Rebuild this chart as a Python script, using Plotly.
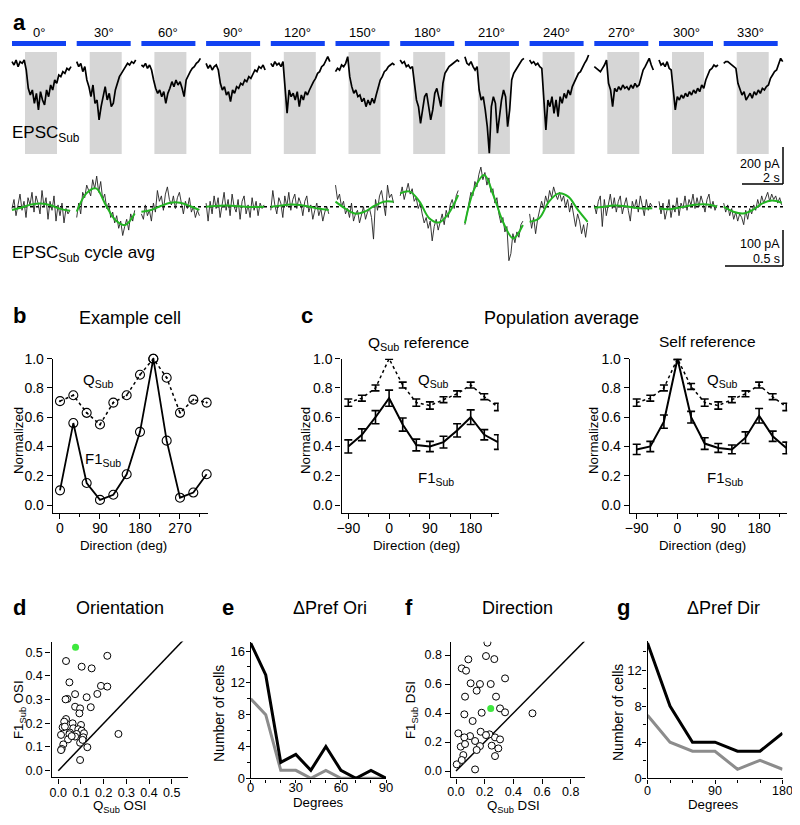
import plotly.graph_objects as go
import numpy as np

# page is drawn inside an 8 px body margin; figure sized so page == 800 x 825
W, H = 800, 825
OFF = 8
FW, FH = W - 2 * OFF, H - 2 * OFF
FONT = "Liberation Sans, Arial, Helvetica, sans-serif"

# ---------------- data ----------------
angles = [0, 30, 60, 90, 120, 150, 180, 210, 240, 270, 300, 330]

# panel a: EPSC_Sub traces (pA, 30 samples over one stimulus epoch)
epsc_000 = [18,0,27,-9,18,9,27,-27,-126,-162,-135,-207,-153,-243,-144,-189,-216,-135,-171,-108,-135,-81,-99,-54,-63,-36,-45,-18,-27,-9]
epsc_030 = [18,-9,9,-36,-9,-81,-117,-171,-108,-207,-189,-297,-225,-171,-117,-189,-153,-225,-207,-135,-99,-63,-45,-27,-9,9,0,18,9,27]
epsc_060 = [0,-9,9,-18,0,-27,-81,-126,-153,-135,-171,-144,-207,-153,-126,-90,-117,-81,-108,-90,-126,-171,-81,-54,-36,-18,-9,9,18,36]
epsc_090 = [9,-18,0,-27,-9,0,-27,-99,-135,-117,-162,-144,-198,-135,-153,-117,-126,-99,-108,-81,-90,-63,-72,-45,-27,-36,-9,-18,0,-27]
epsc_120 = [9,-9,18,0,9,-9,18,-117,-261,-135,-171,-153,-189,-144,-225,-162,-189,-144,-162,-135,-108,-90,-72,-45,-36,-9,0,27,45,18]
epsc_150 = [-36,-18,-27,0,-9,9,45,-63,-117,-153,-135,-171,-162,-198,-180,-225,-189,-216,-180,-207,-162,-117,-81,-63,-36,-27,-9,0,9,0]
epsc_180 = [27,9,18,-9,0,-18,-9,-117,-189,-225,-315,-243,-171,-153,-225,-297,-243,-153,-126,-171,-225,-99,-45,-27,-9,0,9,18,27,18]
epsc_210 = [45,9,0,18,-9,-27,-9,-135,-189,-171,-243,-333,-477,-225,-171,-207,-369,-279,-189,-135,-171,-333,-243,-81,-45,-27,-9,9,27,36]
epsc_240 = [27,9,18,0,9,-9,-18,-189,-351,-189,-225,-171,-261,-189,-279,-171,-207,-153,-180,-135,-162,-117,-90,-63,-45,-36,-9,9,27,54]
epsc_270 = [-9,-18,-27,-36,-18,0,27,-99,-135,-225,-126,-144,-117,-135,-108,-126,-117,-135,-108,-126,-99,-117,-108,-63,-27,-9,18,36,0,-27]
epsc_300 = [27,0,9,-9,18,-18,-27,-153,-243,-171,-189,-162,-180,-153,-171,-144,-162,-135,-153,-126,-144,-108,-126,-81,-54,-27,-18,0,-9,0]
epsc_330 = [9,18,18,9,0,-9,-18,-99,-135,-162,-144,-189,-171,-153,-180,-144,-162,-135,-153,-126,-135,-117,-108,-72,-54,-36,-27,9,36,18]

# panel a: cycle averages (pA, 30 samples over one 0.5 s cycle) and their F1 fits (7 samples)
cyc_000 = [-5,20,-25,10,35,-10,15,-30,25,5,40,-15,30,10,-20,45,0,25,-35,15,-10,30,-40,5,-25,10,-45,-5,-20,-10]
cyc_030 = [-30,10,-20,40,25,60,45,30,75,50,85,40,70,20,35,-5,10,-30,-15,-45,-25,-60,-40,-80,-55,-35,-65,-20,-40,-10]
cyc_060 = [-20,-35,5,-25,-10,-40,10,-15,45,15,30,-10,35,55,20,5,30,-5,25,40,10,-20,15,-5,25,-15,0,-30,-10,-25]
cyc_090 = [10,-40,15,-20,30,-5,25,-30,5,40,-10,20,-25,35,0,-15,20,-35,15,30,-20,5,-30,25,-10,15,-25,10,-5,5]
cyc_120 = [-10,45,5,-20,25,10,-30,30,0,40,-10,20,35,-5,25,10,-25,15,30,-15,5,-35,-10,10,-25,-5,-40,-15,0,-20]
cyc_150 = [60,20,35,0,15,-20,-5,-30,10,-40,-20,-10,-45,-25,0,-35,-15,-5,-30,-90,20,-10,30,45,15,-25,60,25,35,10]
cyc_180 = [30,55,20,45,65,35,50,15,25,-5,10,-20,-45,-30,-60,-40,-95,-55,-35,-65,-45,-20,-50,-10,-30,5,20,-5,30,45]
cyc_210 = [-50,-20,10,40,30,70,55,90,110,75,95,60,80,40,50,10,25,-20,-45,-30,-70,-55,-150,-130,-75,-100,-70,-85,-50,-40]
cyc_240 = [-20,-60,-30,-75,-35,-10,15,-5,30,10,45,25,55,35,20,40,15,30,0,20,-15,10,-30,-55,-20,-40,-75,-50,-85,-45]
cyc_270 = [5,-20,15,30,-55,20,-25,10,35,-5,25,-15,15,30,-20,5,25,-10,-40,15,-5,20,-15,30,0,-25,20,-10,10,0]
cyc_300 = [15,-20,10,-35,-10,20,-30,5,-15,25,-25,10,-5,30,-10,20,5,35,-5,25,0,30,10,-15,20,35,-5,15,-10,5]
cyc_330 = [10,-15,5,-25,-5,-35,-15,-40,-20,-30,-50,-10,-35,-5,-20,5,-10,20,0,30,10,25,40,15,35,20,30,10,25,5]

fit_000 = [-9,-2,6,9,4,-6,-11]
fit_030 = [-14,37,51,5,-37,-51,-19]
fit_060 = [-14,-9,2,11,11,2,-9]
fit_090 = [0,2,3,2,0,-1,0]
fit_120 = [0,3,6,5,0,-6,-9]
fit_150 = [14,-5,-19,-14,2,14,14]
fit_180 = [37,42,14,-32,-44,-19,32]
fit_210 = [-46,51,88,28,-46,-88,-51]
fit_240 = [-42,-32,14,37,28,-9,-42]
fit_270 = [-3,0,3,2,-2,-5,-4]
fit_300 = [-5,-7,-3,2,6,6,0]
fit_330 = [0,-14,-19,-9,9,17,11]

# panel b: example cell
b_q = [0.71,0.75,0.63,0.55,0.70,0.75,0.89,1.00,0.87,0.63,0.72,0.70]
b_f1 = [0.10,0.56,0.15,0.035,0.07,0.21,0.50,1.00,0.44,0.05,0.085,0.21]

# panel c: population averages
c_dir = [-90,-60,-30,0,30,60,90,120,150,180,210,240]
cq_q = [0.70,0.73,0.80,1.00,0.82,0.70,0.68,0.72,0.76,0.82,0.74,0.67]
cq_q_err = [0.025,0.02,0.02,0.004,0.02,0.025,0.025,0.02,0.02,0.02,0.02,0.025]
cq_f1 = [0.40,0.48,0.60,0.73,0.55,0.41,0.40,0.43,0.51,0.60,0.48,0.43]
cq_f1_err = [0.045,0.04,0.045,0.055,0.045,0.04,0.035,0.04,0.045,0.05,0.035,0.05]
cs_q = [0.70,0.73,0.80,1.00,0.81,0.70,0.68,0.72,0.76,0.82,0.74,0.67]
cs_q_err = [0.025,0.02,0.02,0.005,0.02,0.025,0.025,0.02,0.02,0.02,0.02,0.025]
cs_f1 = [0.38,0.40,0.57,1.00,0.60,0.42,0.39,0.38,0.46,0.61,0.47,0.39]
cs_f1_err = [0.035,0.035,0.045,0.005,0.04,0.04,0.03,0.03,0.04,0.05,0.035,0.04]

# panel d: orientation selectivity
d_q_osi = [0.034,0.103,0.147,0.216,0.049,0.188,0.216,0.074,0.040,0.032,0.172,0.125,0.074,0.096,0.143,0.093,
           0.034,0.026,0.063,0.100,0.019,0.029,0.066,0.088,0.103,0.051,0.081,0.049,0.113,0.012,0.265,0.074,
           0.110,0.043,0.096,0.107,0.022,0.015,0.012,0.128,0.096,0.059]
d_f1_osi = [0.463,0.439,0.432,0.485,0.373,0.358,0.355,0.323,0.303,0.301,0.324,0.310,0.270,0.263,0.268,0.242,
            0.218,0.207,0.200,0.193,0.183,0.186,0.179,0.175,0.169,0.161,0.155,0.154,0.158,0.151,0.155,0.144,
            0.141,0.132,0.118,0.130,0.111,0.092,0.087,0.099,0.045,0.146]
d_ex_q, d_ex_f1 = [0.076], [0.521]

# panel e: delta preferred orientation histogram
e_deg = [0,10,20,30,40,50,60,70,80,90]
e_black = [17,13,2,3,1,4,1,0,1,0]
e_gray = [10,8,1,1,0,1,0,0,0,0]

# panel f: direction selectivity
f_q_dsi = [0.219,0.209,0.267,0.086,0.040,0.070,0.342,0.102,0.167,0.242,0.144,0.063,0.279,0.307,0.342,0.179,
           0.058,0.533,0.116,0.016,0.172,0.098,0.058,0.233,0.272,0.307,0.133,0.033,0.063,0.167,0.249,0.144,
           0.295,0.051,0.272,0.005,0.040,0.133,0.209]
f_f1_dsi = [0.885,0.793,0.772,0.770,0.708,0.692,0.639,0.605,0.600,0.600,0.554,0.513,0.513,0.432,0.405,0.402,
            0.391,0.398,0.345,0.260,0.271,0.241,0.232,0.253,0.232,0.218,0.207,0.168,0.186,0.172,0.175,0.145,
            0.156,0.110,0.103,0.046,0.076,0.011,0.248]
f_ex_q, f_ex_f1 = [0.242], [0.432]

# panel g: delta preferred direction histogram
g_deg = [0,30,60,90,120,150,180]
g_black = [15,8,4,4,3,3,5]
g_gray = [7,4,3,3,1,2,1]

# ---------------- helpers (reference-pixel -> paper) ----------------
def px(x):
    return (x - OFF) / FW

def py(y):
    return 1 - (y - OFF) / FH

def dom_x(x0, x1):
    return [px(x0), px(x1)]

def dom_y(ytop, ybot):
    return [py(ybot), py(ytop)]

fig = go.Figure()
layout = dict(width=FW, height=FH, margin=dict(l=0, r=0, t=0, b=0, pad=0), autosize=False,
              paper_bgcolor="white", plot_bgcolor="white", showlegend=False,
              font=dict(family=FONT, color="black"))
annotations = []
shapes = []

def ann(text, x, y, size=13, xanchor="center", yanchor="middle", angle=0, bold=False, xref="paper", yref="paper"):
    if bold:
        text = "<b>" + text + "</b>"
    annotations.append(dict(text=text, x=x, y=y, xref=xref, yref=yref, showarrow=False,
                            xanchor=xanchor, yanchor=yanchor, textangle=angle, borderpad=0,
                            font=dict(size=size, family=FONT, color="black")))

def hidden(domain, rng, anchor):
    return dict(domain=domain, range=rng, visible=False, fixedrange=True, anchor=anchor)

def vis(domain, rng, anchor, tickvals, fs=13, fmt=None, minor=None, standoff=0, ticklen=5):
    d = dict(domain=domain, range=rng, anchor=anchor, showline=True, linecolor="black", linewidth=1.4,
             ticks="outside", ticklen=ticklen, tickwidth=1.4, tickcolor="black", tickmode="array",
             tickvals=tickvals, showgrid=False, zeroline=False, fixedrange=True, automargin=False,
             ticklabelstandoff=standoff, ticklabeloverflow="allow",
             tickfont=dict(size=fs, family=FONT, color="black"))
    if fmt:
        d["tickformat"] = fmt
    if minor is not None:
        d["minor"] = dict(tickmode="array", tickvals=minor, ticks="outside", ticklen=3,
                          tickwidth=1.4, tickcolor="black", showgrid=False)
    return d

# ---------------- panel a: raw traces ----------------
S_PX = 20.5          # px per second (scale bar 2 s = 41 px)
PA_PX = 37 / 200.0   # px per pA
seg_pitch = 64.7 / S_PX
trace_len = 59 / S_PX
stim_on, stim_off = 13 / S_PX, 45 / S_PX
bar_len = 54 / S_PX
base_px = 65

def xa(p):
    return (p - 12) / S_PX

def ya(p):
    return (base_px - p) / PA_PX

layout["xaxis"] = hidden(dom_x(8, 792), [xa(8), xa(792)], "y")
layout["yaxis"] = hidden(dom_y(28, 196), [ya(196), ya(28)], "x")

epsc_list = [epsc_000, epsc_030, epsc_060, epsc_090, epsc_120, epsc_150,
             epsc_180, epsc_210, epsc_240, epsc_270, epsc_300, epsc_330]
for i, (ang, vals) in enumerate(zip(angles, epsc_list)):
    t0 = i * seg_pitch
    t = t0 + np.linspace(0, trace_len, len(vals))
    shapes.append(dict(type="rect", xref="x", yref="paper", x0=t0 + stim_on, x1=t0 + stim_off,
                       y0=py(154), y1=py(52), fillcolor="#d6d6d6", line=dict(width=0), layer="below"))
    shapes.append(dict(type="rect", xref="x", yref="paper", x0=t0, x1=t0 + bar_len,
                       y0=py(46), y1=py(41), fillcolor="#1242f2", line=dict(width=0), layer="below"))
    fig.add_trace(go.Scatter(x=t, y=vals, mode="lines", line=dict(color="black", width=1.7),
                             xaxis="x", yaxis="y", hoverinfo="skip"))
    ann(f"{ang}°", t0 + bar_len / 2, py(33), size=13, xref="x")

# scale bar 200 pA / 2 s
sb_t, sb_y = xa(783), ya(184)
shapes.append(dict(type="line", xref="x", yref="y", x0=sb_t, x1=sb_t, y0=sb_y, y1=sb_y + 200,
                   line=dict(color="black", width=1.5)))
shapes.append(dict(type="line", xref="x", yref="y", x0=sb_t - 2, x1=sb_t, y0=sb_y, y1=sb_y,
                   line=dict(color="black", width=1.5)))
ann("200 pA", px(781), py(163.5), size=12.5, xanchor="right")
ann("2 s", px(781), py(178.5), size=12.5, xanchor="right")
ann("EPSC<sub>Sub</sub>", px(11), py(134), size=17, xanchor="left")
ann("a", px(12), py(8.5), size=22, xanchor="left", yanchor="top", bold=True)

# ---------------- panel a: cycle averages ----------------
C_PX = 116.0          # px per second (0.5 s = 58 px)
CPA_PX = 36 / 100.0   # px per pA
cyc_base = 206.7
cyc_pitch = 64.7 / C_PX
cyc_len = 0.5

def xc(p):
    return (p - 12) / C_PX

def yc(p):
    return (cyc_base - p) / CPA_PX

layout["xaxis2"] = hidden(dom_x(8, 792), [xc(8), xc(792)], "y2")
layout["yaxis2"] = hidden(dom_y(165, 275), [yc(275), yc(165)], "x2")

cyc_list = [cyc_000, cyc_030, cyc_060, cyc_090, cyc_120, cyc_150,
            cyc_180, cyc_210, cyc_240, cyc_270, cyc_300, cyc_330]
fit_list = [fit_000, fit_030, fit_060, fit_090, fit_120, fit_150,
            fit_180, fit_210, fit_240, fit_270, fit_300, fit_330]
fig.add_trace(go.Scatter(x=[0, xc(783)], y=[0, 0], mode="lines",
                         line=dict(color="black", width=1.4, dash="dot"),
                         xaxis="x2", yaxis="y2", hoverinfo="skip"))
for i, (vals, fit) in enumerate(zip(cyc_list, fit_list)):
    t0 = i * cyc_pitch
    t = t0 + np.linspace(0, cyc_len, len(vals))
    fig.add_trace(go.Scatter(x=t, y=vals, mode="lines", line=dict(color="#222222", width=0.9),
                             xaxis="x2", yaxis="y2", hoverinfo="skip"))
    tf = t0 + np.linspace(0, cyc_len, len(fit))
    fig.add_trace(go.Scatter(x=tf, y=fit, mode="lines", line=dict(color="#22b422", width=2, shape="spline"),
                             xaxis="x2", yaxis="y2", hoverinfo="skip"))

cb_t, cb_y = xc(783), yc(266)
shapes.append(dict(type="line", xref="x2", yref="y2", x0=cb_t, x1=cb_t, y0=cb_y, y1=cb_y + 100,
                   line=dict(color="black", width=1.5)))
shapes.append(dict(type="line", xref="x2", yref="y2", x0=cb_t - 0.5, x1=cb_t, y0=cb_y, y1=cb_y,
                   line=dict(color="black", width=1.5)))
ann("100 pA", px(781), py(244.5), size=12.5, xanchor="right")
ann("0.5 s", px(781), py(259.5), size=12.5, xanchor="right")
ann("EPSC<sub>Sub</sub> cycle avg", px(11), py(254), size=17, xanchor="left")

# ---------------- panel b ----------------
b_ppd = 40 / 90.0
layout["xaxis3"] = vis(dom_x(60 - 16 * b_ppd, 60 + 334 * b_ppd), [-16, 334], "y3", [0, 90, 180, 270], fs=14,
                       minor=[45, 135, 225, 315], standoff=-3)
layout["yaxis3"] = vis(dom_y(358.7, 513), [-0.0547, 1.0], "x3", [0, 0.2, 0.4, 0.6, 0.8, 1.0], fs=14, fmt=".1f")
fig.add_trace(go.Scatter(x=angles, y=b_q, mode="lines+markers", xaxis="x3", yaxis="y3", cliponaxis=False,
                         line=dict(color="black", width=1.5, dash="dot"),
                         marker=dict(symbol="circle-open-dot", size=9, color="black", line=dict(width=1.1))))
fig.add_trace(go.Scatter(x=angles, y=b_f1, mode="lines+markers", xaxis="x3", yaxis="y3", cliponaxis=False,
                         line=dict(color="black", width=1.8),
                         marker=dict(symbol="circle-open", size=9, color="black", line=dict(width=1.1))))
ann("b", px(12), py(316), size=22, xanchor="left", bold=True)
ann("Example cell", px(130), py(318), size=18)
ann("Normalized", px(18), py(441), size=13.3, angle=-90)
ann("Direction (deg)", px(123), py(545), size=13.3)
ann("Q<sub>Sub</sub>", px(82), py(381), size=15, xanchor="left")
ann("F1<sub>Sub</sub>", px(84), py(460), size=15, xanchor="left")

# ---------------- panel c ----------------
c_ppd = (470.7 - 348.3) / 270.0
for (xn, yn, x_at_m90, q, qe, f1, f1e) in [
        ("xaxis4", "yaxis4", 348.3, cq_q, cq_q_err, cq_f1, cq_f1_err),
        ("xaxis5", "yaxis5", 636.7, cs_q, cs_q_err, cs_f1, cs_f1_err)]:
    xs, ys = xn.replace("axis", ""), yn.replace("axis", "")
    left = x_at_m90 - 15 * c_ppd
    layout[xn] = vis(dom_x(left, left + 347 * c_ppd), [-105, 242], ys, [-90, 0, 90, 180], fs=14,
                     minor=[-45, 45, 135, 225], standoff=-3)
    layout[yn] = vis(dom_y(358.7, 513), [-0.0547, 1.0], xs, [0, 0.2, 0.4, 0.6, 0.8, 1.0], fs=14, fmt=".1f")
    fig.add_trace(go.Scatter(x=c_dir, y=q, mode="lines", xaxis=xs, yaxis=ys, cliponaxis=False,
                             line=dict(color="black", width=1.5, dash="dot"),
                             error_y=dict(type="data", array=qe, color="black", thickness=1.6, width=4)))
    fig.add_trace(go.Scatter(x=c_dir, y=f1, mode="lines", xaxis=xs, yaxis=ys, cliponaxis=False,
                             line=dict(color="black", width=2),
                             error_y=dict(type="data", array=f1e, color="black", thickness=1.6, width=4)))

ann("c", px(300), py(316), size=22, xanchor="left", bold=True)
ann("Population average", px(561), py(318), size=18)
ann("Q<sub>Sub</sub> reference", px(418), py(343), size=15.5)
ann("Self reference", px(707), py(341), size=15.5)
ann("Normalized", px(305), py(441), size=13.3, angle=-90)
ann("Normalized", px(593), py(441), size=13.3, angle=-90)
ann("Direction (deg)", px(417), py(545), size=13.3)
ann("Direction (deg)", px(702), py(545), size=13.3)
ann("Q<sub>Sub</sub>", px(417), py(381), size=15, xanchor="left")
ann("F1<sub>Sub</sub>", px(417), py(478), size=15, xanchor="left")
ann("Q<sub>Sub</sub>", px(706), py(381), size=15, xanchor="left")
ann("F1<sub>Sub</sub>", px(706), py(478), size=15, xanchor="left")

# ---------------- panel d ----------------
layout["xaxis6"] = vis(dom_x(51.5, 188.3), [-0.03, 0.573], "y6", [0, 0.1, 0.2, 0.3, 0.4, 0.5], fs=12.5,
                       fmt=".1f", standoff=-2)
layout["yaxis6"] = vis(dom_y(641.6, 777.3), [-0.028, 0.545], "x6", [0, 0.1, 0.2, 0.3, 0.4, 0.5], fs=12.5, fmt=".1f")
fig.add_trace(go.Scatter(x=[0, 0.6], y=[0, 0.6], mode="lines", xaxis="x6", yaxis="y6",
                         line=dict(color="black", width=1.5)))
fig.add_trace(go.Scatter(x=d_q_osi, y=d_f1_osi, mode="markers", xaxis="x6", yaxis="y6",
                         marker=dict(symbol="circle", size=7, color="white", line=dict(color="black", width=1))))
fig.add_trace(go.Scatter(x=d_ex_q, y=d_ex_f1, mode="markers", xaxis="x6", yaxis="y6",
                         marker=dict(symbol="circle", size=7, color="#3ee83e", line=dict(width=0))))
ann("d", px(12), py(607), size=22, xanchor="left", bold=True)
ann("Orientation", px(120), py(608), size=18)
ann("F1<sub>Sub</sub> OSI", px(19), py(710), size=13.3, angle=-90)
ann("Q<sub>Sub</sub> OSI", px(120), py(806), size=13.3)

# ---------------- panel e ----------------
layout["xaxis7"] = vis(dom_x(250.7, 386), [0, 90], "y7", [0, 30, 60, 90], fs=13,
                       minor=[10, 20, 40, 50, 70, 80], standoff=-6, ticklen=3)
layout["yaxis7"] = vis(dom_y(778.3 - 17.1 * 7.956, 778.3), [0, 17.1], "x7", [0, 4, 8, 12, 16], fs=13,
                       minor=[2, 6, 10, 14], standoff=-2, ticklen=4)
fig.add_trace(go.Scatter(x=e_deg, y=e_gray, mode="lines", xaxis="x7", yaxis="y7", cliponaxis=False,
                         line=dict(color="#8c8c8c", width=3)))
fig.add_trace(go.Scatter(x=e_deg, y=e_black, mode="lines", xaxis="x7", yaxis="y7", cliponaxis=False,
                         line=dict(color="black", width=3)))
ann("e", px(221), py(607), size=22, xanchor="left", bold=True)
ann("ΔPref Ori", px(330), py(608), size=18)
ann("Number of cells", px(219), py(713), size=14, angle=-90)
ann("Degrees", px(318), py(802), size=13.3)

# ---------------- panel f ----------------
layout["xaxis8"] = vis(dom_x(450.7, 585.1), [-0.037, 0.9], "y8", [0, 0.2, 0.4, 0.6, 0.8], fs=12.5, fmt=".1f",
                       standoff=-3)
layout["yaxis8"] = vis(dom_y(641.7, 777.4), [-0.044, 0.892], "x8", [0, 0.2, 0.4, 0.6, 0.8], fs=12.5, fmt=".1f")
fig.add_trace(go.Scatter(x=[0, 0.95], y=[0, 0.95], mode="lines", xaxis="x8", yaxis="y8",
                         line=dict(color="black", width=1.5)))
fig.add_trace(go.Scatter(x=f_q_dsi, y=f_f1_dsi, mode="markers", xaxis="x8", yaxis="y8",
                         marker=dict(symbol="circle", size=7, color="white", line=dict(color="black", width=1))))
fig.add_trace(go.Scatter(x=f_ex_q, y=f_ex_f1, mode="markers", xaxis="x8", yaxis="y8",
                         marker=dict(symbol="circle", size=7, color="#3ee83e", line=dict(width=0))))
ann("f", px(404), py(607), size=22, xanchor="left", bold=True)
ann("Direction", px(517), py(608), size=18)
ann("F1<sub>Sub</sub> DSI", px(411), py(710), size=13.3, angle=-90)
ann("Q<sub>Sub</sub> DSI", px(513), py(806), size=13.3)

# ---------------- panel g ----------------
layout["xaxis9"] = vis(dom_x(647.5, 782.5), [0, 180], "y9", [0, 90, 180], fs=12.5, minor=[30, 60, 120, 150],
                       standoff=-4, ticklen=4)
layout["yaxis9"] = vis(dom_y(778.3 - 15.2 * 9.025, 778.3), [0, 15.2], "x9", [0, 4, 8, 12], fs=13,
                       minor=[2, 6, 10, 14], standoff=-2, ticklen=4)
fig.add_trace(go.Scatter(x=g_deg, y=g_gray, mode="lines", xaxis="x9", yaxis="y9", cliponaxis=False,
                         line=dict(color="#8c8c8c", width=3)))
fig.add_trace(go.Scatter(x=g_deg, y=g_black, mode="lines", xaxis="x9", yaxis="y9", cliponaxis=False,
                         line=dict(color="black", width=3)))
ann("g", px(616), py(607), size=22, xanchor="left", bold=True)
ann("ΔPref Dir", px(723), py(608), size=18)
ann("Number of cells", px(618), py(713), size=14, angle=-90)
ann("Degrees", px(713), py(804), size=13.3)

layout["annotations"] = annotations
layout["shapes"] = shapes
fig.update_layout(**layout)
fig.write_html("out.html")
